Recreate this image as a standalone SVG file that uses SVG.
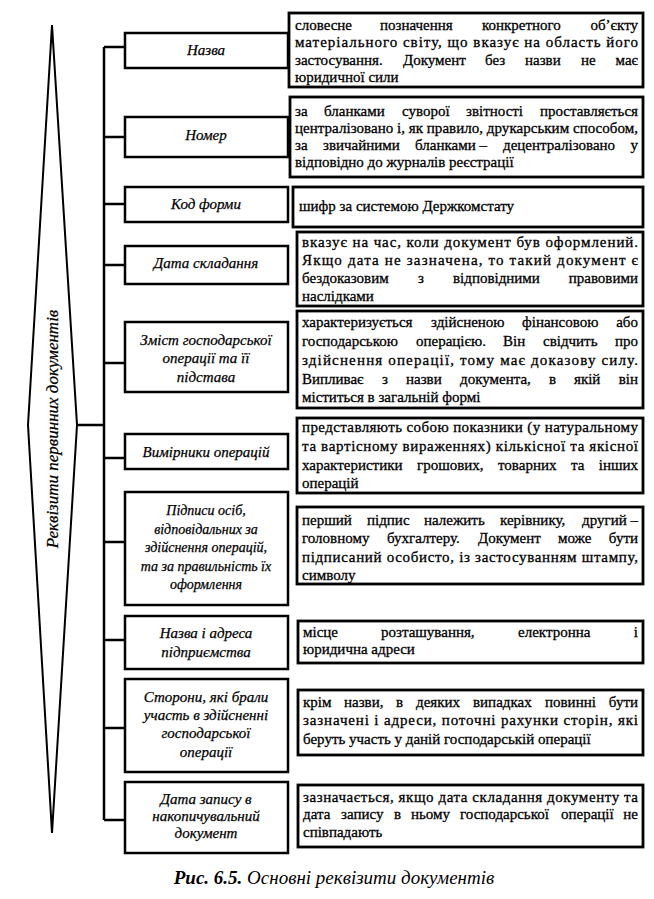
<svg xmlns="http://www.w3.org/2000/svg" width="654" height="899" viewBox="0 0 654 899">
<style>
.box{fill:#fff;stroke:#000;stroke-width:2.5}
.rb{stroke-width:2.8}
.dia{fill:#fff;stroke:#000;stroke-width:2}
.conn{fill:none;stroke:#000;stroke-width:2.5}
.lbl{font-family:"Liberation Serif","Times New Roman",serif;font-style:italic;font-size:15px;text-anchor:middle;fill:#000;stroke:#000;stroke-width:0.25}
.sm{font-size:14px}
.t{font-family:"Liberation Serif","Times New Roman",serif;font-size:15px;fill:#000;stroke:#000;stroke-width:0.3}
.e{text-anchor:end}
.cap{font-family:"Liberation Serif","Times New Roman",serif;font-style:italic;font-size:19px;fill:#000}
</style>
<rect width="654" height="899" fill="#fff"/>

<g id="connectors">
<path class="conn" d="M77,425 H104 M104,47 V820 M104,47 H125 M104,137 H125 M104,204 H125 M104,265 H125 M104,363 H125 M104,458 H125 M104,542 H125 M104,640 H125 M104,728 H125 M104,820 H125"/>
</g>

<g id="root">
<polygon class="dia" points="52,25 77,425 52,833 28,425"/>
<text class="lbl" style="font-size:17px" transform="translate(58,429) rotate(-90)" x="0" y="0">Реквізити первинних документів</text>
</g>

<g id="n1">
<rect class="box" x="125" y="33" width="163" height="35"/>
<text class="lbl" x="206" y="55">Назва</text>
</g>
<g id="d1">
<rect class="box rb" x="289" y="13" width="354" height="74"/>
<text class="t" y="30"><tspan x="295">словесне</tspan><tspan x="380">позначення</tspan><tspan x="482">конкретного</tspan></text>
<text class="t e" x="638" y="30">об’єкту</text>
<text class="t" x="295" y="47" textLength="343" lengthAdjust="spacing">матеріального світу, що вказує на область його</text>
<text class="t" y="65"><tspan x="295">застосування.</tspan><tspan x="403">Документ</tspan><tspan x="485">без</tspan><tspan x="525">назви</tspan><tspan x="581">не</tspan></text>
<text class="t e" x="638" y="65">має</text>
<text class="t" x="295" y="82">юридичної сили</text>
</g>

<g id="n2">
<rect class="box" x="125" y="117" width="163" height="40"/>
<text class="lbl" x="206" y="140">Номер</text>
</g>
<g id="d2">
<rect class="box rb" x="290" y="97" width="353" height="80"/>
<text class="t" y="116"><tspan x="295">за</tspan><tspan x="324">бланками</tspan><tspan x="402">суворої</tspan><tspan x="466">звітності</tspan></text>
<text class="t e" x="638" y="116">проставляється</text>
<text class="t" x="295" y="133" textLength="343" lengthAdjust="spacing">централізовано і, як правило, друкарським способом,</text>
<text class="t" y="150"><tspan x="295">за</tspan><tspan x="323">звичайними</tspan><tspan x="415">бланками –</tspan><tspan x="503">децентралізовано</tspan></text>
<text class="t e" x="638" y="150">у</text>
<text class="t" x="295" y="167">відповідно до журналів реєстрації</text>
</g>

<g id="n3">
<rect class="box" x="125" y="187" width="163" height="35"/>
<text class="lbl" x="206" y="209">Код форми</text>
</g>
<g id="d3">
<rect class="box rb" x="293" y="187" width="350" height="40"/>
<text class="t" x="299" y="211">шифр за системою Держкомстату</text>
</g>

<g id="n4">
<rect class="box" x="125" y="246" width="163" height="38"/>
<text class="lbl" x="206" y="268">Дата складання</text>
</g>
<g id="d4">
<rect class="box rb" x="297" y="232" width="346" height="74"/>
<text class="t" x="302" y="247" textLength="336" lengthAdjust="spacing">вказує на час, коли документ був оформлений.</text>
<text class="t" x="302" y="265" textLength="336" lengthAdjust="spacing">Якщо дата не зазначена, то такий документ є</text>
<text class="t" y="283"><tspan x="302">бездоказовим</tspan><tspan x="418">з</tspan><tspan x="453">відповідними</tspan></text>
<text class="t e" x="638" y="283">правовими</text>
<text class="t" x="302" y="301">наслідками</text>
</g>

<g id="n5">
<rect class="box" x="125" y="322" width="163" height="70"/>
<text class="lbl" x="206" y="345">Зміст господарської</text>
<text class="lbl" x="206" y="363">операції та її</text>
<text class="lbl" x="206" y="382">підстава</text>
</g>
<g id="d5">
<rect class="box rb" x="297" y="311" width="346" height="97"/>
<text class="t" y="327"><tspan x="302">характеризується</tspan><tspan x="431">здійсненою</tspan><tspan x="522">фінансовою</tspan></text>
<text class="t e" x="638" y="327">або</text>
<text class="t" y="346"><tspan x="302">господарською</tspan><tspan x="416">операцією.</tspan><tspan x="503">Він</tspan><tspan x="543">свідчить</tspan></text>
<text class="t e" x="638" y="346">про</text>
<text class="t" x="302" y="365" textLength="336" lengthAdjust="spacing">здійснення операції, тому має доказову силу.</text>
<text class="t" y="384"><tspan x="302">Випливає</tspan><tspan x="382">з</tspan><tspan x="406">назви</tspan><tspan x="460">документа,</tspan><tspan x="549">в</tspan><tspan x="574">якій</tspan></text>
<text class="t e" x="638" y="384">він</text>
<text class="t" x="302" y="402">міститься в загальній формі</text>
</g>

<g id="n6">
<rect class="box" x="125" y="434" width="163" height="35"/>
<text class="lbl" x="206" y="457">Вимірники операцій</text>
</g>
<g id="d6">
<rect class="box rb" x="297" y="418" width="346" height="75"/>
<text class="t" x="302" y="432" textLength="336" lengthAdjust="spacing">представляють собою показники (у натуральному</text>
<text class="t" x="302" y="451" textLength="336" lengthAdjust="spacing">та вартісному вираженнях) кількісної та якісної</text>
<text class="t" y="470"><tspan x="302">характеристики</tspan><tspan x="417">грошових,</tspan><tspan x="498">товарних</tspan><tspan x="571">та</tspan></text>
<text class="t e" x="638" y="470">інших</text>
<text class="t" x="302" y="488">операцій</text>
</g>

<g id="n7">
<rect class="box" x="125" y="492" width="163" height="113"/>
<text class="lbl sm" x="206" y="515">Підписи осіб,</text>
<text class="lbl sm" x="206" y="534">відповідальних за</text>
<text class="lbl sm" x="206" y="552">здійснення операцій,</text>
<text class="lbl sm" x="206" y="571">та за правильність їх</text>
<text class="lbl sm" x="206" y="589">оформлення</text>
</g>
<g id="d7">
<rect class="box rb" x="297" y="507" width="346" height="77"/>
<text class="t" y="525"><tspan x="302">перший</tspan><tspan x="367">підпис</tspan><tspan x="424">належить</tspan><tspan x="500">керівнику,</tspan></text>
<text class="t e" x="638" y="525">другий –</text>
<text class="t" y="543"><tspan x="302">головному</tspan><tspan x="387">бухгалтеру.</tspan><tspan x="478">Документ</tspan><tspan x="558">може</tspan></text>
<text class="t e" x="638" y="543">бути</text>
<text class="t" x="302" y="562" textLength="336" lengthAdjust="spacing">підписаний особисто, із застосуванням штампу,</text>
<text class="t" x="302" y="580">символу</text>
</g>

<g id="n8">
<rect class="box" x="125" y="616" width="163" height="53"/>
<text class="lbl" x="206" y="638">Назва і адреса</text>
<text class="lbl" x="206" y="657">підприємства</text>
</g>
<g id="d8">
<rect class="box rb" x="298" y="621" width="345" height="42"/>
<text class="t" y="637"><tspan x="303">місце</tspan><tspan x="381">розташування,</tspan><tspan x="518">електронна</tspan></text>
<text class="t e" x="638" y="637">і</text>
<text class="t" x="303" y="654">юридична адреси</text>
</g>

<g id="n9">
<rect class="box" x="125" y="679" width="163" height="93"/>
<text class="lbl" x="206" y="702">Сторони, які брали</text>
<text class="lbl" x="206" y="720">участь в здійсненні</text>
<text class="lbl" x="206" y="738">господарської</text>
<text class="lbl" x="206" y="757">операції</text>
</g>
<g id="d9">
<rect class="box rb" x="298" y="690" width="345" height="65"/>
<text class="t" y="707"><tspan x="303">крім</tspan><tspan x="344">назви,</tspan><tspan x="396">в</tspan><tspan x="416">деяких</tspan><tspan x="473">випадках</tspan><tspan x="545">повинні</tspan></text>
<text class="t e" x="638" y="707">бути</text>
<text class="t" x="303" y="725" textLength="335" lengthAdjust="spacing">зазначені і адреси, поточні рахунки сторін, які</text>
<text class="t" x="303" y="744">беруть участь у даній господарській операції</text>
</g>

<g id="n10">
<rect class="box" x="125" y="782" width="163" height="71"/>
<text class="lbl" x="206" y="804">Дата запису в</text>
<text class="lbl" x="206" y="821">накопичувальний</text>
<text class="lbl" x="206" y="838">документ</text>
</g>
<g id="d10">
<rect class="box rb" x="298" y="785" width="345" height="62"/>
<text class="t" x="303" y="802" textLength="335" lengthAdjust="spacing">зазначається, якщо дата складання документу та</text>
<text class="t" y="819"><tspan x="303">дата</tspan><tspan x="341">запису</tspan><tspan x="394">в</tspan><tspan x="411">ньому</tspan><tspan x="460">господарської</tspan><tspan x="561">операції</tspan></text>
<text class="t e" x="638" y="819">не</text>
<text class="t" x="303" y="837">співпадають</text>
</g>

<g id="caption">
<text class="cap" x="334" y="884" text-anchor="middle"><tspan font-weight="bold">Рис. 6.5.</tspan> Основні реквізити документів</text>
</g>
</svg>
